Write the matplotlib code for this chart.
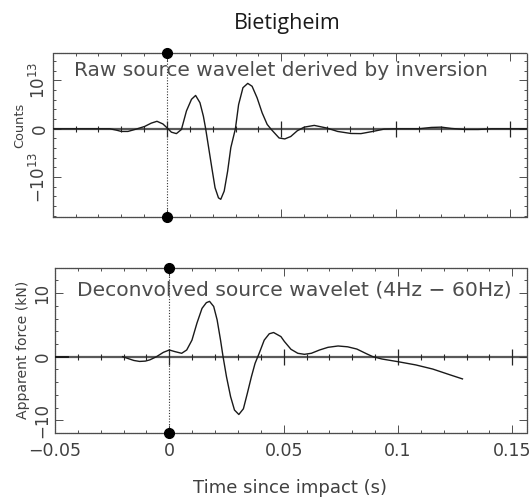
import numpy as np
import matplotlib
matplotlib.use("Agg")
import matplotlib.pyplot as plt
from matplotlib.ticker import MultipleLocator, FixedLocator, FixedFormatter

# ---------------- data ----------------
title = "Bietigheim"
raw_label = "Raw source wavelet derived by inversion"
dec_label = "Deconvolved source wavelet (4Hz \u2212 60Hz)"
xlabel = "Time since impact (s)"
ylabel_top = "Counts"
ylabel_bot = "Apparent force (kN)"

# upper panel: raw wavelet, in units of 1e13 counts
raw_t = [-0.05, -0.025, -0.022, -0.02, -0.0171, -0.0135, -0.0098, -0.0069,
         -0.0044, -0.0018, 0.0, 0.0019, 0.0041, 0.0063, 0.0085, 0.0107, 0.0125,
         0.0144, 0.0159, 0.0169, 0.0181, 0.0196, 0.021, 0.0225, 0.0235, 0.025,
         0.0265, 0.0279, 0.0299, 0.0313, 0.0332, 0.0353, 0.0372, 0.0394, 0.0416,
         0.0438, 0.0456, 0.049, 0.0515, 0.0541, 0.057, 0.06, 0.0644, 0.07,
         0.0746, 0.0804, 0.0848, 0.09, 0.0949, 0.1, 0.11, 0.1156, 0.12, 0.1244,
         0.1303, 0.1361, 0.142, 0.1573]
raw_v = [0.0, 0.0, -0.03, -0.055, -0.055, -0.007, 0.048, 0.117,
         0.155, 0.1, 0.02, -0.07, -0.10, -0.014, 0.37, 0.61, 0.69,
         0.54, 0.26, 0.0, -0.36, -0.81, -1.22, -1.43, -1.46, -1.29,
         -0.88, -0.39, 0.0, 0.50, 0.85, 0.94, 0.88, 0.64, 0.33,
         0.09, -0.014, -0.19, -0.21, -0.16, -0.04, 0.034, 0.07, 0.014,
         -0.055, -0.097, -0.10, -0.055, -0.007, 0.0, 0.0, 0.028, 0.034, 0.007,
         -0.014, -0.014, 0.0, 0.0]
raw_unit = 1e13

# lower panel: deconvolved wavelet (kN)
lead_t = [-0.05, -0.0445]
lead_f = [0.0, 0.0]
dec_t = [-0.0204, -0.018, -0.0155, -0.013, -0.0105, -0.0085, -0.0056, -0.0026,
         0.0, 0.0025, 0.0054, 0.0076, 0.0099, 0.0121, 0.0143, 0.0162, 0.0176,
         0.0194, 0.0209, 0.0224, 0.0235, 0.025, 0.0268, 0.0285, 0.0304, 0.0324,
         0.0341, 0.0359, 0.0375, 0.0393, 0.0415, 0.0437, 0.0456, 0.0488, 0.0503,
         0.0532, 0.0562, 0.0591, 0.0621, 0.0657, 0.0694, 0.0738, 0.078, 0.082,
         0.086, 0.089, 0.093, 0.1, 0.1078, 0.1152, 0.1226, 0.1282]
dec_f = [0.0, -0.3, -0.6, -0.75, -0.7, -0.5, 0.0, 0.68,
         1.05, 0.79, 0.53, 1.05, 2.6, 5.3, 7.6, 8.5, 8.7,
         7.9, 5.8, 2.6, 0.0, -3.16, -6.3, -8.4, -9.1, -8.2,
         -5.8, -3.16, -1.05, 0.53, 2.6, 3.6, 3.8, 3.16, 2.4,
         1.16, 0.53, 0.37, 0.53, 1.05, 1.47, 1.68, 1.55, 1.2,
         0.5, 0.0, -0.37, -0.79, -1.3, -1.95, -2.84, -3.5]

xlim_top = (-0.05, 0.1573)
xlim_bot = (-0.05, 0.1563)
xticks = [-0.05, 0, 0.05, 0.1, 0.15]
xticklabels = ["\u22120.05", "0", "0.05", "0.1", "0.15"]
ylim_top = (-1.82, 1.575)
yticks_top = [-1, 0, 1]
yticklabels_top = [r"$-10^{13}$", "0", r"$10^{13}$"]
ylim_bot = (-12.06, 14.0)
yticks_bot = [-10, 0, 10]
yticklabels_bot = ["\u221210", "0", "10"]

# ---------------- figure ----------------
plt.rcParams['font.family'] = ['DejaVu Sans']
W, H = 531, 498
fig = plt.figure(figsize=(W / 100, H / 100), dpi=100)
ax1 = fig.add_axes([52.7 / W, 1 - 216.7 / H, 474.0 / W, 164.0 / H])
ax2 = fig.add_axes([55.0 / W, 1 - 433.3 / H, 471.7 / W, 165.6 / H])

frame_col = '0.3'
txt_col = '0.25'


def style(ax, xl, yl, ymin, yt, ytl, show_x):
    ax.set_xlim(*xl)
    ax.set_ylim(*yl)
    ax.xaxis.set_major_locator(FixedLocator(xticks))
    ax.xaxis.set_minor_locator(MultipleLocator(0.01))
    ax.yaxis.set_major_locator(FixedLocator(yt))
    ax.yaxis.set_major_formatter(FixedFormatter(ytl))
    ax.yaxis.set_minor_locator(MultipleLocator(ymin))
    ax.tick_params(which='both', direction='in', top=True, right=True,
                   width=0.6, color='0.2')
    ax.tick_params(which='major', length=5.5)
    ax.tick_params(which='minor', length=2.5)
    ax.tick_params(axis='y', labelsize=12, labelcolor=txt_col, pad=2.5)
    for lab in ax.get_yticklabels():
        lab.set_rotation(90)
        lab.set_va('center')
    if show_x:
        ax.set_xticklabels(xticklabels, fontsize=12.5, color=txt_col)
        ax.tick_params(axis='x', pad=6)
    else:
        ax.set_xticklabels([])
    for s in ax.spines.values():
        s.set_color(frame_col)
        s.set_linewidth(0.9)
        s.set_linestyle((0, (1, 0.6)))


# upper
raw_counts = [v * raw_unit for v in raw_v]
ax1.axhline(0, color='0.35', lw=1.6, zorder=1)
ax1.plot(raw_t, raw_counts, color='0.1', lw=1.0, zorder=3)
style(ax1, xlim_top, [v * raw_unit for v in ylim_top], 0.2 * raw_unit,
      [v * raw_unit for v in yticks_top], yticklabels_top, False)
ax1.text(0.4816, 0.89, raw_label, transform=ax1.transAxes, ha='center',
         va='center', fontsize=14.5, color='0.3')

# lower
ax2.axhline(0, color='0.35', lw=1.6, zorder=1)
ax2.plot(lead_t, lead_f, color='0.1', lw=1.4, zorder=3)
ax2.plot(dec_t, dec_f, color='0.1', lw=1.0, zorder=3)
style(ax2, xlim_bot, ylim_bot, 2, yticks_bot, yticklabels_bot, True)
ax2.text(0.5077, 0.865, dec_label, transform=ax2.transAxes, ha='center',
         va='center', fontsize=14.6, color='0.3')

# axis titles
fig.text(20 / W, 1 - 125 / H, ylabel_top, rotation=90, ha='center',
         va='center', fontsize=9.3, color=txt_col)
fig.text(23 / W, 1 - 350 / H, ylabel_bot, rotation=90, ha='center',
         va='center', fontsize=10.1, color=txt_col)
fig.text(290 / W, 1 - 488 / H, xlabel, ha='center', va='center',
         fontsize=13, color=txt_col)

# ticks along zero line, t=0 marker line and dots
for ax in (ax1, ax2):
    xl = ax.get_xlim()
    xmin_ticks = [x for x in ax.xaxis.get_minorticklocs() if xl[0] < x < xl[1]]
    xmaj_ticks = [x for x in ax.get_xticks() if xl[0] < x < xl[1]]
    ax.plot(xmin_ticks, [0] * len(xmin_ticks), ls='none', marker='|', ms=5,
            mew=0.8, color='0.15', zorder=2)
    ax.plot(xmaj_ticks, [0] * len(xmaj_ticks), ls='none', marker='|', ms=11,
            mew=0.9, color='0.15', zorder=2)
    ax.axvline(0, color='0.2', lw=0.8, ls=(0, (1, 1.5)), zorder=2)
    y0, y1 = ax.get_ylim()
    ax.plot([0, 0], [y0, y1], ls='none', marker='o', ms=7, color='black',
            clip_on=False, zorder=5)

fig.text(287 / W, 1 - 23 / H, title, ha='center', va='center', fontsize=15.5,
         family=['Open Sans', 'DejaVu Sans'], color='0.1')

fig.savefig("out.png", dpi=100)
